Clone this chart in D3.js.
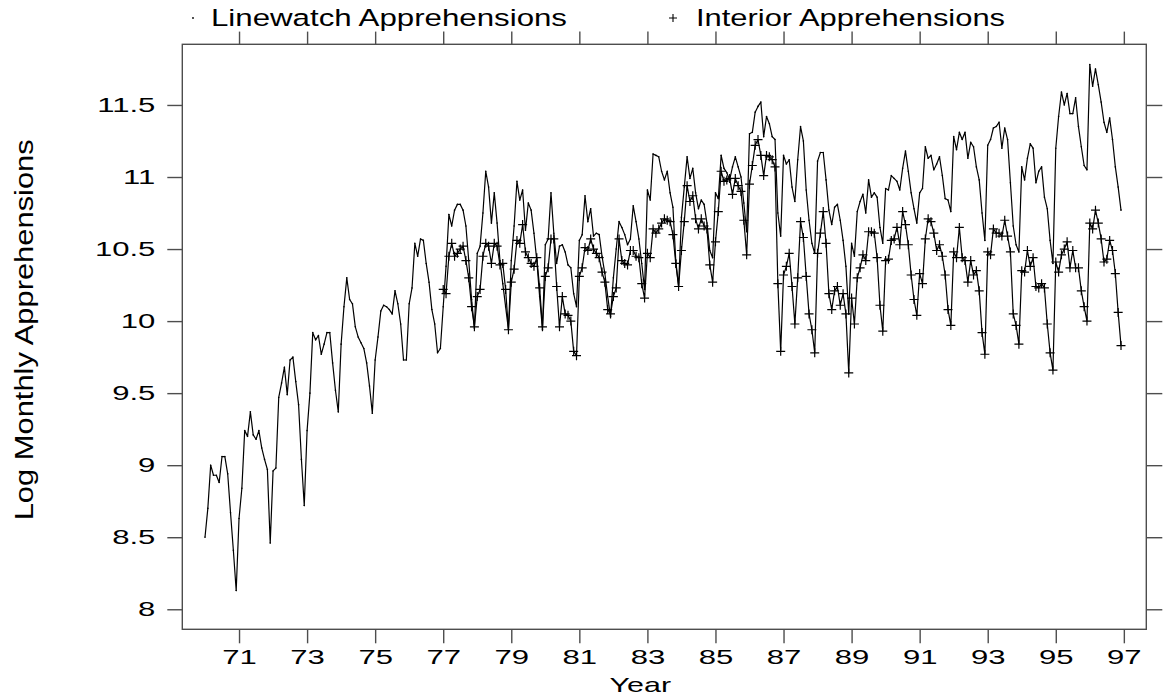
<!DOCTYPE html>
<html>
<head>
<meta charset="utf-8">
<script src="https://cdn.jsdelivr.net/npm/d3@7"></script>
<style>
  html, body { margin: 0; padding: 0; background: #fff; }
  svg { display: block; }
  text { font-family: "Liberation Sans", Arial, Helvetica, sans-serif; fill: #000; }
</style>
</head>
<body>
<svg id="chart" width="1167" height="698"></svg>
<script>
// ---- data (monthly, log scale) ----
const linewatchStart = 1970;   // Jan 1970
const linewatch = [
  8.50, 8.70, 9.00, 8.93, 8.93, 8.88, 9.06, 9.06, 8.94, 8.67, 8.41, 8.13,
  8.63, 8.84, 9.24, 9.20, 9.37, 9.21, 9.18, 9.24, 9.12, 9.04, 8.97, 8.46,
  8.96, 8.98, 9.47, 9.57, 9.68, 9.49, 9.73, 9.75, 9.58, 9.42, 9.04, 8.72,
  9.24, 9.50, 9.92, 9.87, 9.90, 9.77, 9.84, 9.92, 9.92, 9.71, 9.52, 9.37,
  9.84, 10.10, 10.30, 10.15, 10.12, 9.96, 9.89, 9.85, 9.81, 9.71, 9.55, 9.36,
  9.73, 9.89, 10.07, 10.11, 10.10, 10.08, 10.05, 10.21, 10.12, 9.98, 9.73, 9.73,
  10.12, 10.23, 10.54, 10.45, 10.57, 10.56, 10.40, 10.27, 10.08, 9.98, 9.78, 9.81,
  10.10, 10.38, 10.74, 10.66, 10.77, 10.81, 10.81, 10.77, 10.66, 10.42, 10.15, 9.95,
  10.47, 10.52, 10.75, 11.04, 10.93, 10.68, 10.89, 10.68, 10.42, 10.26, 10.10, 9.94,
  10.42, 10.66, 10.97, 10.84, 10.91, 10.63, 10.82, 10.77, 10.61, 10.42, 10.17, 9.94,
  10.53, 10.57, 10.89, 10.61, 10.40, 10.52, 10.53, 10.48, 10.39, 10.37, 10.19, 10.10,
  10.56, 10.60, 10.87, 10.69, 10.78, 10.59, 10.61, 10.60, 10.45, 10.33, 10.17, 10.03,
  10.30, 10.50, 10.69, 10.65, 10.60, 10.53, 10.57, 10.80, 10.69, 10.57, 10.40, 10.22,
  10.91, 10.84, 11.16, 11.15, 11.14, 11.04, 10.98, 11.04, 10.89, 10.79, 10.42, 10.24,
  10.72, 10.93, 11.14, 10.99, 11.06, 10.89, 10.78, 10.84, 10.81, 10.68, 10.49, 10.44,
  10.89, 10.85, 11.15, 11.06, 11.03, 10.98, 11.07, 11.14, 11.07, 11.00, 10.82, 10.62,
  11.30, 11.31, 11.45, 11.49, 11.52, 11.28, 11.42, 11.37, 11.28, 11.26, 10.75, 10.59,
  11.15, 11.09, 11.12, 10.93, 10.83, 11.12, 11.35, 11.25, 10.91, 10.70, 10.54, 10.47,
  11.11, 11.17, 11.17, 10.98, 10.77, 10.67, 10.79, 10.81, 10.70, 10.56, 10.38, 10.05,
  10.54, 10.45, 10.76, 10.83, 10.88, 10.75, 10.98, 10.86, 10.89, 10.86, 10.65, 10.54,
  10.92, 10.91, 11.01, 10.99, 10.97, 10.91, 11.06, 11.18, 11.04, 10.89, 10.78, 10.68,
  10.89, 10.92, 11.21, 11.13, 11.15, 11.05, 11.09, 11.14, 11.01, 10.85, 10.84, 10.76,
  11.28, 11.19, 11.31, 11.26, 11.31, 11.13, 11.24, 11.21, 11.07, 10.98, 10.75, 10.56,
  11.22, 11.26, 11.34, 11.35, 11.38, 11.20, 11.34, 11.26, 10.96, 10.66, 10.53, 10.48,
  11.07, 10.98, 11.13, 11.23, 11.20, 10.96, 11.04, 11.07, 10.86, 10.78, 10.56, 10.40,
  11.20, 11.42, 11.59, 11.50, 11.58, 11.44, 11.44, 11.55, 11.35, 11.21, 11.08, 11.05,
  11.78, 11.63, 11.75, 11.64, 11.52, 11.38, 11.31, 11.41, 11.26, 11.07, 10.93, 10.77
];
const interiorStart = 1977;    // Jan 1977
const interior = [
  10.22, 10.19, 10.45, 10.54, 10.45, 10.47, 10.50, 10.52, 10.42, 10.30, 10.10, 9.96,
  10.17, 10.22, 10.45, 10.54, 10.52, 10.40, 10.54, 10.52, 10.39, 10.40, 10.22, 9.94,
  10.27, 10.36, 10.56, 10.54, 10.67, 10.48, 10.44, 10.40, 10.38, 10.44, 10.23, 9.96,
  10.31, 10.37, 10.57, 10.57, 10.24, 9.96, 10.17, 10.05, 10.04, 10.00, 9.79, 9.76,
  10.31, 10.37, 10.51, 10.49, 10.57, 10.50, 10.47, 10.44, 10.34, 10.27, 10.08, 10.05,
  10.17, 10.23, 10.57, 10.42, 10.40, 10.39, 10.49, 10.49, 10.45, 10.44, 10.26, 10.16,
  10.47, 10.44, 10.64, 10.61, 10.64, 10.68, 10.71, 10.70, 10.69, 10.60, 10.40, 10.24,
  10.49, 10.69, 10.94, 10.83, 10.87, 10.71, 10.64, 10.71, 10.66, 10.64, 10.39, 10.27,
  10.55, 10.76, 11.04, 10.97, 10.98, 10.99, 10.88, 10.99, 10.94, 10.90, 10.70, 10.46,
  10.95, 11.08, 11.22, 11.26, 11.15, 11.01, 11.15, 11.14, 11.12, 11.07, 10.26, 9.79,
  10.32, 10.38, 10.47, 10.24, 9.98, 10.30, 10.69, 10.58, 10.31, 10.05, 9.94, 9.78,
  10.47, 10.61, 10.76, 10.54, 10.19, 10.08, 10.21, 10.24, 10.11, 10.19, 10.05, 9.64,
  10.16, 9.98, 10.30, 10.37, 10.46, 10.42, 10.62, 10.62, 10.61, 10.44, 10.11, 9.93,
  10.42, 10.43, 10.56, 10.57, 10.65, 10.53, 10.76, 10.67, 10.53, 10.32, 10.15, 10.04,
  10.33, 10.26, 10.57, 10.71, 10.69, 10.61, 10.49, 10.53, 10.45, 10.32, 10.08, 9.97,
  10.48, 10.44, 10.65, 10.44, 10.42, 10.27, 10.42, 10.32, 10.35, 10.21, 9.92, 9.77,
  10.48, 10.46, 10.64, 10.61, 10.61, 10.59, 10.70, 10.59, 10.48, 10.05, 9.97, 9.84,
  10.35, 10.34, 10.49, 10.38, 10.44, 10.24, 10.23, 10.26, 10.23, 9.98, 9.78, 9.66,
  10.41, 10.34, 10.46, 10.50, 10.55, 10.37, 10.49, 10.37, 10.37, 10.21, 10.10, 10.00,
  10.68, 10.64, 10.77, 10.68, 10.57, 10.41, 10.43, 10.56, 10.49, 10.33, 10.06, 9.83
];
const xTicks = [1971, 1973, 1975, 1977, 1979, 1981, 1983, 1985, 1987, 1989, 1991, 1993, 1995, 1997];
const xTickLabels = ["71", "73", "75", "77", "79", "81", "83", "85", "87", "89", "91", "93", "95", "97"];
const yTicks = [8, 8.5, 9, 9.5, 10, 10.5, 11, 11.5];
const yTickLabels = ["8", "8.5", "9", "9.5", "10", "10.5", "11", "11.5"];
const seriesNames = ["Linewatch Apprehensions", "Interior Apprehensions"];
const xTitle = "Year";
const yTitle = "Log Monthly Apprehensions";

// ---- layout ----
const L = 182.3, R = 1146.3, T = 44.3, B = 629.3;
const FS = 20.7;          // tick label font size
const FS_BIG = 24.5;      // legend / titles
const STRETCH = 1.5;      // glyphs are drawn wide in the original
const AX = "#4d4d4d";

const svg = d3.select("#chart");
const x = d3.scaleLinear().domain([1969.333, 1997.66]).range([L, R]);
const y = d3.scaleLinear().domain([7.861, 11.921]).range([B, T]);

const toPts = (arr, start) => arr.map((v, i) => ({ t: start + i / 12, v }));
const lwPts = toPts(linewatch, linewatchStart);
const inPts = toPts(interior, interiorStart);

function stretch(sel, f) {
  sel.each(function () {
    const w = this.getComputedTextLength();
    d3.select(this).attr("textLength", w * (f || STRETCH)).attr("lengthAdjust", "spacingAndGlyphs");
  });
}
function fitTo(sel, w) {
  sel.attr("textLength", w).attr("lengthAdjust", "spacingAndGlyphs");
}

// frame
svg.append("rect").attr("x", L).attr("y", T).attr("width", R - L).attr("height", B - T)
  .attr("fill", "none").attr("stroke", AX).attr("stroke-width", 1.4);

// axes
const gB = svg.append("g").attr("transform", `translate(0,${B})`)
  .call(d3.axisBottom(x).tickValues(xTicks).tickSize(14).tickSizeOuter(0).tickPadding(6)
    .tickFormat((d, i) => xTickLabels[i]));
const gT = svg.append("g").attr("transform", `translate(0,${T})`)
  .call(d3.axisTop(x).tickValues(xTicks).tickSize(12.7).tickSizeOuter(0).tickFormat(""));
const gL = svg.append("g").attr("transform", `translate(${L},0)`)
  .call(d3.axisLeft(y).tickValues(yTicks).tickSize(15).tickSizeOuter(0).tickPadding(12)
    .tickFormat((d, i) => yTickLabels[i]));
const gR = svg.append("g").attr("transform", `translate(${R},0)`)
  .call(d3.axisRight(y).tickValues(yTicks).tickSize(16).tickSizeOuter(0).tickFormat(""));

[gB, gT, gL, gR].forEach(g => {
  g.select(".domain").remove();
  g.selectAll(".tick line").attr("stroke", AX).attr("stroke-width", 1.4);
  g.selectAll("text").attr("font-size", FS).attr("font-family", null).attr("fill", "#000");
});
gB.selectAll("text").attr("dy", "0.71em");
stretch(gB.selectAll("text"));
stretch(gL.selectAll("text"));

// titles
const xt = svg.append("text").attr("x", (L + R) / 2 - 24).attr("y", 692)
  .attr("text-anchor", "middle").attr("font-size", 21).text(xTitle);
stretch(xt, 1.45);
const yt = svg.append("text").attr("transform", `translate(32.5,${(T + B) / 2 - 7}) rotate(-90)`)
  .attr("text-anchor", "middle").attr("font-size", 25.5).text(yTitle);
fitTo(yt, 381);

// lines
const line = d3.line().x(d => x(d.t)).y(d => y(d.v));
svg.append("path").datum(lwPts).attr("d", line).attr("fill", "none")
  .attr("stroke", "#000").attr("stroke-width", 1.2).attr("stroke-linejoin", "round");
svg.append("path").datum(inPts).attr("d", line).attr("fill", "none")
  .attr("stroke", "#000").attr("stroke-width", 1.2).attr("stroke-linejoin", "round");

// markers
svg.append("g").selectAll("circle").data(lwPts).join("circle")
  .attr("cx", d => x(d.t)).attr("cy", d => y(d.v)).attr("r", 0.8).attr("fill", "#000");
const cs = 4.5;
const plus = (px, py) => `M${px - cs},${py}H${px + cs}M${px},${py - cs}V${py + cs}`;
svg.append("path").attr("d", inPts.map(d => plus(x(d.t), y(d.v))).join(""))
  .attr("stroke", "#000").attr("stroke-width", 1.2).attr("fill", "none");

// legend
const legY = 26;
svg.append("circle").attr("cx", 193).attr("cy", 18).attr("r", 0.9).attr("fill", "#000");
const l1 = svg.append("text").attr("x", 211).attr("y", legY).attr("font-size", FS_BIG).text(seriesNames[0]);
fitTo(l1, 356);
svg.append("path").attr("d", `M${669},${18}H${677}M${673},${14}V${22}`).attr("stroke", "#000").attr("stroke-width", 1.1);
const l2 = svg.append("text").attr("x", 696).attr("y", legY).attr("font-size", FS_BIG).text(seriesNames[1]);
fitTo(l2, 309);
</script>
</body>
</html>
